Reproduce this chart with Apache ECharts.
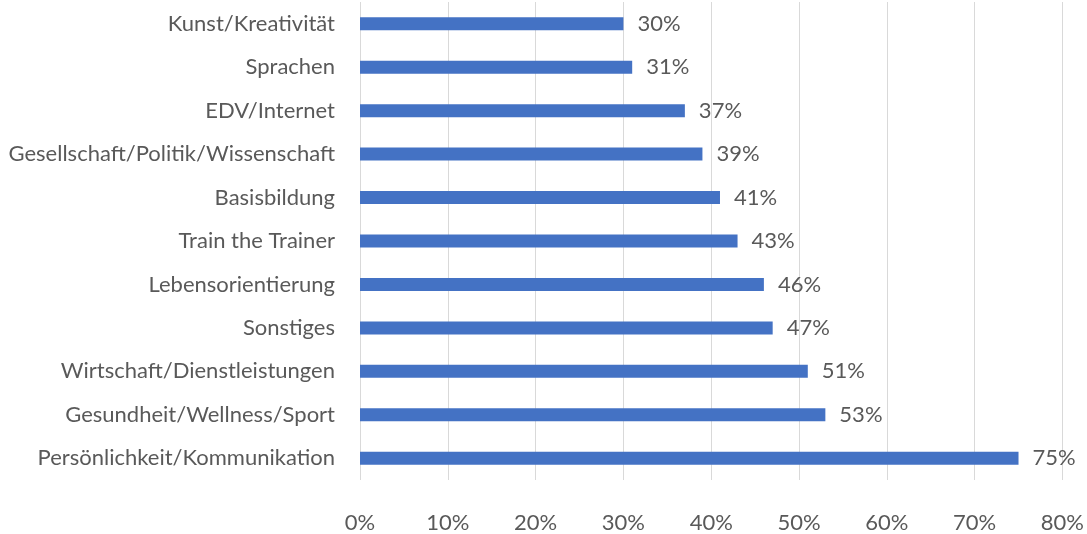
<!DOCTYPE html>
<html>
<head>
<meta charset="utf-8">
<script src="https://cdn.jsdelivr.net/npm/echarts@6/dist/echarts.min.js"></script>
<style>
  html, body { margin: 0; padding: 0; background: #ffffff; }
  #chart { width: 1087px; height: 534px; }
</style>
</head>
<body>
<div id="chart"></div>
<script>
// Themenbereiche, von oben nach unten
const categories = [
  'Kunst/Kreativität',
  'Sprachen',
  'EDV/Internet',
  'Gesellschaft/Politik/Wissenschaft',
  'Basisbildung',
  'Train the Trainer',
  'Lebensorientierung',
  'Sonstiges',
  'Wirtschaft/Dienstleistungen',
  'Gesundheit/Wellness/Sport',
  'Persönlichkeit/Kommunikation'
];
// Anteile in Prozent
const values = [30, 31, 37, 39, 41, 43, 46, 47, 51, 53, 75];
// Skalenwerte der x-Achse
const xTicks = [0, 10, 20, 30, 40, 50, 60, 70, 80];

const textColor = '#595959';
const fontFamily = 'Lato, "Open Sans", sans-serif';

const chart = echarts.init(document.getElementById('chart'), null, { renderer: 'canvas' });
chart.setOption({
  animation: false,
  grid: { left: 360, right: 24, top: 2, bottom: 49, containLabel: false },
  xAxis: {
    type: 'value',
    min: xTicks[0],
    max: xTicks[xTicks.length - 1],
    interval: xTicks[1] - xTicks[0],
    axisLine: { show: false },
    axisTick: { show: false },
    splitLine: { show: true, lineStyle: { color: '#d9d9d9', width: 1 } },
    axisLabel: {
      formatter: '{value}%',
      color: textColor,
      fontFamily: fontFamily,
      fontSize: 22,
      margin: 32
    }
  },
  yAxis: {
    type: 'category',
    data: categories,
    inverse: true,
    axisLine: { show: false },
    axisTick: { show: false },
    splitLine: { show: false },
    axisLabel: {
      color: textColor,
      fontFamily: fontFamily,
      fontSize: 22,
      margin: 25
    }
  },
  series: [{
    type: 'bar',
    data: values,
    barWidth: 13,
    itemStyle: { color: '#4472c4' },
    label: {
      show: true,
      position: 'right',
      distance: 14,
      formatter: '{c}%',
      color: textColor,
      fontFamily: fontFamily,
      fontSize: 22
    }
  }]
});
</script>
</body>
</html>
